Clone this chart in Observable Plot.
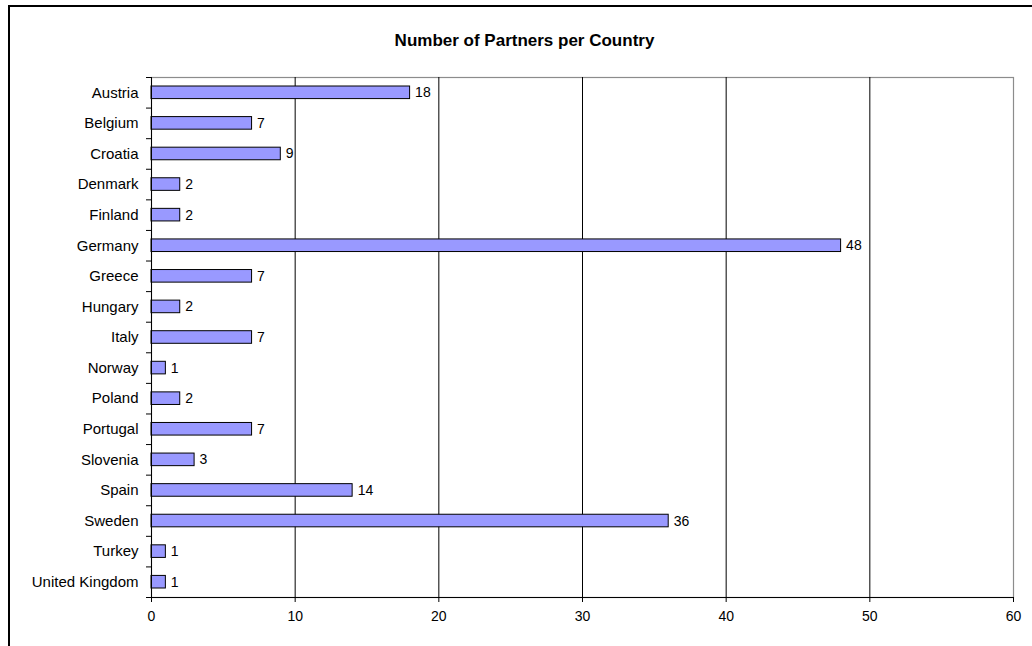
<!DOCTYPE html>
<html>
<head>
<meta charset="utf-8">
<script src="https://cdn.jsdelivr.net/npm/d3@7"></script>
<script src="https://cdn.jsdelivr.net/npm/@observablehq/plot@0.6"></script>
<style>
  html, body { margin: 0; padding: 0; background: #fff; overflow: hidden; }
  #chart svg { display: block; }
</style>
</head>
<body>
<div id="chart"></div>
<script>
// Partners per country
const countries = ["Austria", "Belgium", "Croatia", "Denmark", "Finland", "Germany", "Greece",
  "Hungary", "Italy", "Norway", "Poland", "Portugal", "Slovenia", "Spain", "Sweden", "Turkey",
  "United Kingdom"];
const partners = [18, 7, 9, 2, 2, 48, 7, 2, 7, 1, 2, 7, 3, 14, 36, 1, 1];
const xTicks = [0, 10, 20, 30, 40, 50, 60];
const gridTicks = [10, 20, 30, 40, 50];
const title = "Number of Partners per Country";

const rows = countries.map((country, i) => ({country, value: partners[i]}));

const W = 1032, H = 646;
const margin = {top: 77, right: 19, bottom: 49, left: 151};
const step = (H - margin.top - margin.bottom) / countries.length;
const font = "'Liberation Sans', Arial, Helvetica, sans-serif";
const last = countries[countries.length - 1];

const chart = Plot.plot({
  width: W,
  height: H,
  marginTop: margin.top,
  marginRight: margin.right,
  marginBottom: margin.bottom,
  marginLeft: margin.left,
  style: {fontFamily: font, fontSize: "14px", color: "#000", background: "#fff"},
  x: {domain: [0, 60], ticks: xTicks, label: null, inset: 0},
  y: {domain: countries, padding: 0, round: false, label: null, inset: 0},
  marks: [
    Plot.frame({stroke: "#8c8c8c", strokeWidth: 1.2}),
    Plot.gridX(gridTicks, {stroke: "#000", strokeOpacity: 1}),
    // category labels
    Plot.axisY({tickSize: 0, tickPadding: 13, fontSize: 15, label: null}),
    // tick marks between categories
    Plot.axisY({tickSize: 5, tickFormat: () => "", dy: -step / 2, label: null}),
    Plot.axisY([last], {tickSize: 5, tickFormat: () => "", dy: step / 2, label: null}),
    Plot.axisX({ticks: xTicks, tickSize: 5, tickPadding: 9, fontSize: 14, label: null}),
    Plot.barX(rows, {x: "value", y: "country", fill: "#9999FF", stroke: "#000", strokeWidth: 1,
      insetTop: 9, insetBottom: 9}),
    Plot.ruleX([0], {stroke: "#000"}),
    Plot.ruleY([last], {stroke: "#000", dy: step / 2}),
    Plot.text(rows, {x: "value", y: "country", text: d => String(d.value), textAnchor: "start",
      dx: 5, fontSize: 14, fill: "#000"})
  ]
});

const svg = d3.select(chart);
svg.append("text")
  .attr("x", 524.5)
  .attr("y", 45.5)
  .attr("text-anchor", "middle")
  .attr("font-family", font)
  .attr("font-size", 17)
  .attr("font-weight", "bold")
  .attr("fill", "#000")
  .text(title);
svg.append("path")
  .attr("d", `M9,${H} V6 H${W}`)
  .attr("fill", "none")
  .attr("stroke", "#000")
  .attr("stroke-width", 2);

document.getElementById("chart").appendChild(chart);
</script>
</body>
</html>
